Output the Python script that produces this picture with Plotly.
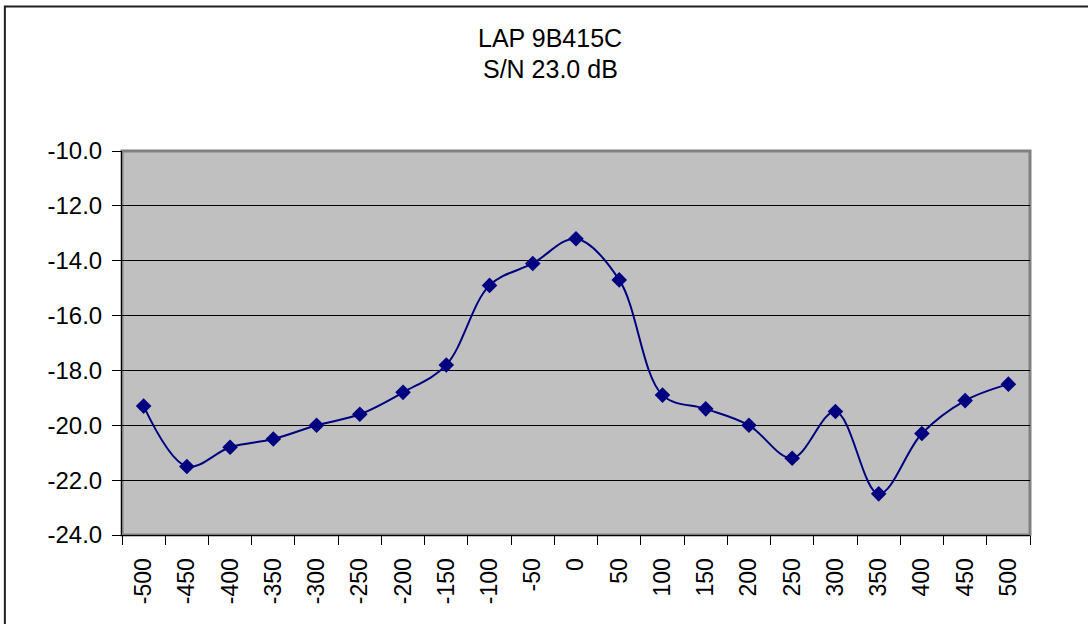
import plotly.graph_objects as go

categories = ["-500", "-450", "-400", "-350", "-300", "-250", "-200", "-150", "-100", "-50",
              "0", "50", "100", "150", "200", "250", "300", "350", "400", "450", "500"]
values = [-19.3, -21.5, -20.8, -20.5, -20.0, -19.6, -18.8, -17.8, -14.9, -14.1,
          -13.2, -14.7, -18.9, -19.4, -20.0, -21.2, -19.5, -22.5, -20.3, -19.1, -18.5]
title_lines = ["LAP 9B415C", "S/N 23.0 dB"]
y_ticks = [-24, -22, -20, -18, -16, -14, -12, -10]
y_tick_labels = ["-24.0", "-22.0", "-20.0", "-18.0", "-16.0", "-14.0", "-12.0", "-10.0"]

FONT = "Liberation Sans, Arial, sans-serif"

fig = go.Figure()
fig.add_trace(go.Scatter(
    x=categories, y=values, mode="lines+markers",
    line=dict(color="#000080", width=2, shape="spline", smoothing=1.0),
    marker=dict(symbol="diamond", size=12, color="#000080"),
    cliponaxis=False,
))

fig.update_layout(
    width=1088, height=624,
    margin=dict(l=122, r=58, t=151, b=89),
    paper_bgcolor="white", plot_bgcolor="#C0C0C0",
    showlegend=False,
    font=dict(family=FONT, size=24, color="black"),
    xaxis=dict(type="category", tickson="boundaries", ticks="outside", ticklen=9,
               tickcolor="black", tickangle=-90, showgrid=False,
               showline=True, linecolor="black", linewidth=1,
               tickfont=dict(size=23), range=[-0.5, 20.5], ticklabelstandoff=13),
    yaxis=dict(range=[-24, -10], tickvals=y_ticks, ticktext=y_tick_labels, ticks="outside",
               ticklen=9, tickcolor="black", showgrid=True, gridcolor="black", gridwidth=1,
               showline=True, linecolor="black", linewidth=1, zeroline=False,
               tickfont=dict(size=24), ticklabelstandoff=5),
)

# plot area border (gray)
fig.add_shape(type="rect", xref="paper", yref="paper", x0=0, x1=1, y0=0, y1=1,
              line=dict(color="#808080", width=3), layer="below")
# outer chart border (left and top visible)
fig.add_shape(type="rect", xref="paper", yref="paper", x0=-0.129, x1=1.3, y0=-0.4, y1=1.376,
              line=dict(color="#202020", width=2))

fig.add_annotation(text=title_lines[0], xref="paper", yref="paper", x=(550 - 122) / 908, y=(535 - 38) / 384,
                   showarrow=False, font=dict(size=25), xanchor="center", yanchor="middle")
fig.add_annotation(text=title_lines[1], xref="paper", yref="paper", x=(550 - 122) / 908, y=(535 - 69) / 384,
                   showarrow=False, font=dict(size=25), xanchor="center", yanchor="middle")

fig.write_html("out.html", config={"displayModeBar": False},
               post_script="document.body.style.margin='0px';document.body.style.overflow='hidden';")
